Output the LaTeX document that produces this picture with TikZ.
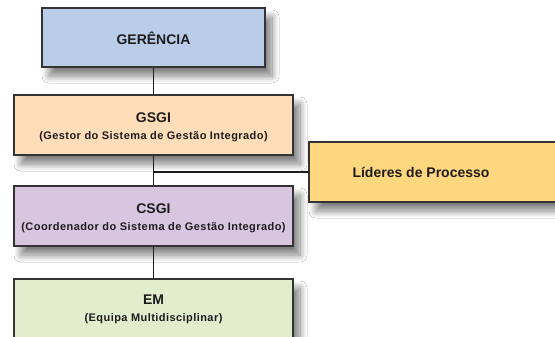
\documentclass[tikz,border=0pt]{standalone}
\usepackage{fontspec}
\setmainfont{Liberation Sans}
\newfontfamily\subfont{Liberation Sans}[LetterSpace=4]
\usetikzlibrary{shadows.blur}
\definecolor{txt}{HTML}{1E1C1D}
\definecolor{bord}{HTML}{333333}
\definecolor{cblue}{HTML}{B9CDE8}
\definecolor{cpeach}{HTML}{FEDDB8}
\definecolor{clav}{HTML}{D8C6E0}
\definecolor{cyel}{HTML}{FED77F}
\definecolor{cgreen}{HTML}{E1EDCD}
\newcommand{\subtxt}[1]{{\subfont\bfseries\fontsize{11}{13}\selectfont #1}}
\tikzset{
  orgbox/.style={draw=bord, line width=1.6pt, inner sep=0pt,
    blur shadow={shadow xshift=7pt, shadow yshift=-9pt, shadow blur radius=7pt, shadow blur steps=14, shadow opacity=50}},
  boxtext/.style={align=center, text=txt, inner sep=0pt, font=\bfseries\fontsize{14}{17}\selectfont},
  conn/.style={draw=txt, line width=1.4pt}
}
\begin{document}
\begin{tikzpicture}[x=1pt,y=1pt]
\clip (0,0) rectangle (555,-337);
\fill[white] (0,0) rectangle (555,-337);
\node[orgbox, fill=cblue, minimum width=223, minimum height=59,
  label={[boxtext, yshift=-0.5pt]center:GERÊNCIA}] (ger) at (153.5,-37.5) {};
\node[orgbox, fill=cyel, minimum width=256, minimum height=60,
  label={[boxtext, xshift=-16pt]center:Líderes de Processo}] (lp) at (437,-172) {};
\node[orgbox, fill=cpeach, minimum width=279, minimum height=60,
  label={[boxtext, yshift=-2.5pt]center:{GSGI\\[0pt]\subtxt{(Gestor do Sistema de Gestão Integrado)}}}] (gsgi) at (153.5,-125) {};
\node[orgbox, fill=clav, minimum width=279, minimum height=60,
  label={[boxtext, yshift=-2.5pt]center:{CSGI\\[0pt]\subtxt{(Coordenador do Sistema de Gestão Integrado)}}}] (csgi) at (153.5,-216) {};
\node[orgbox, fill=cgreen, minimum width=279, minimum height=60,
  label={[boxtext, yshift=-0.5pt]center:{EM\\[0pt]\subtxt{(Equipa Multidisciplinar)}}}] (em) at (153.5,-309) {};
\draw[conn] (ger.south) -- (gsgi.north);
\draw[conn] (gsgi.south) -- (csgi.north);
\coordinate (j) at (gsgi.south |- lp.west);
\draw[conn] (j) -- (lp.west);
\draw[conn] (csgi.south) -- (em.north);
\end{tikzpicture}
\end{document}
